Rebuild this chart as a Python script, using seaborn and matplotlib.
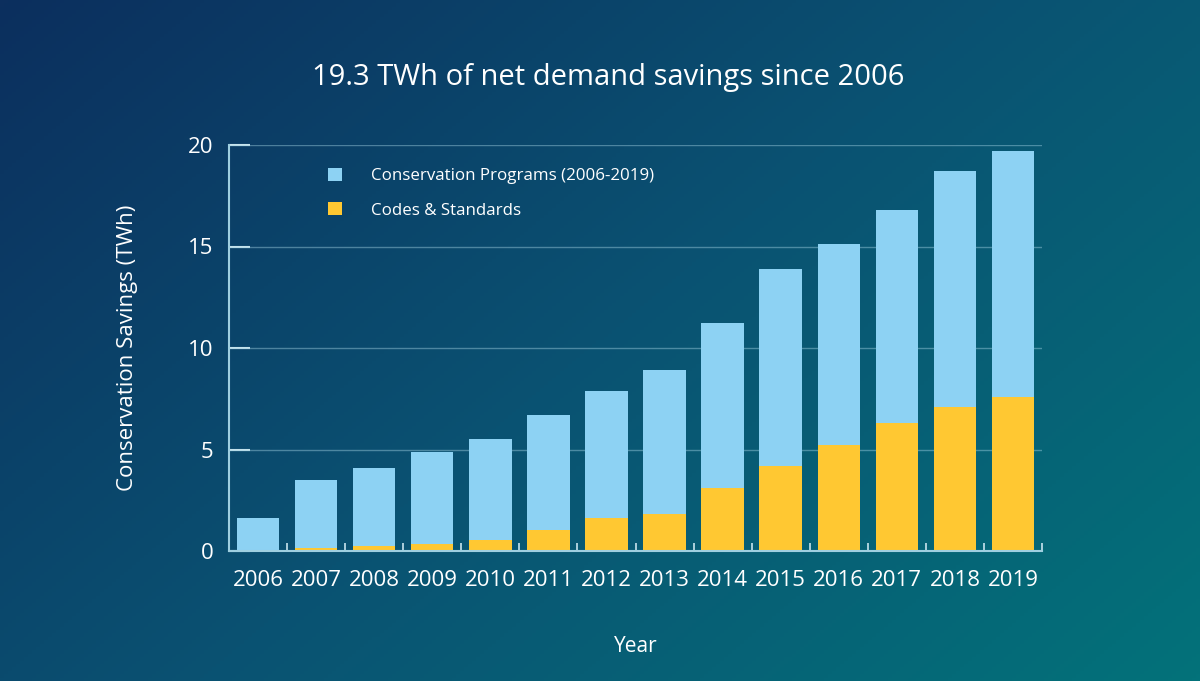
import numpy as np
import pandas as pd
import matplotlib
matplotlib.use("Agg")
import matplotlib.pyplot as plt
from matplotlib.patches import Patch
from matplotlib.colors import LinearSegmentedColormap
import seaborn as sns

years = ["2006", "2007", "2008", "2009", "2010", "2011", "2012",
         "2013", "2014", "2015", "2016", "2017", "2018", "2019"]
total_savings = [1.61, 3.51, 4.10, 4.89, 5.50, 6.70, 7.88,
                 8.90, 11.23, 13.90, 15.10, 16.80, 18.70, 19.69]
codes_standards = [0.0, 0.15, 0.23, 0.33, 0.54, 1.02, 1.61,
                   1.81, 3.10, 4.20, 5.21, 6.32, 7.09, 7.60]
y_ticks = [0, 5, 10, 15, 20]

title = "19.3 TWh of net demand savings since 2006"
ylabel = "Conservation Savings (TWh)"
xlabel = "Year"
legend_labels = ["Conservation Programs (2006-2019)", "Codes & Standards"]

blue = "#8dd2f3"
yellow = "#ffc832"
txt = "#ffffff"
line_col = "#9fcfe0"

sns.set_theme(style="white")
plt.rcParams["font.family"] = ["Open Sans", "DejaVu Sans"]

df = pd.DataFrame({"year": years, "total": total_savings, "codes": codes_standards})

fig = plt.figure(figsize=(12, 6.81), dpi=100)

# gradient background
bg = fig.add_axes([0, 0, 1, 1], zorder=-10)
cmap = LinearSegmentedColormap.from_list("bg", ["#0c2f5e", "#0a5272", "#03727a"])
xx, yy = np.meshgrid(np.linspace(0, 1, 300), np.linspace(0, 1, 200))
grad = (xx * 0.6 + yy * 0.4)
bg.imshow(grad, cmap=cmap, aspect="auto", extent=[0, 1, 0, 1], origin="upper")
bg.axis("off")

ax = fig.add_axes([229/1200, 1 - 551/681, (1042-229)/1200, (551-145)/681])
ax.set_facecolor("none")

sns.barplot(data=df, x="year", y="total", order=years, color=blue,
            width=0.73, saturation=1, linewidth=0, edgecolor="none", ax=ax, zorder=3)
sns.barplot(data=df, x="year", y="codes", order=years, color=yellow,
            width=0.73, saturation=1, linewidth=0, edgecolor="none", ax=ax, zorder=4)

ax.set_xlim(-0.5, len(years) - 0.5)
ax.set_ylim(0, 20)
ax.set_yticks(y_ticks)
ax.set_yticklabels([str(v) for v in y_ticks])
for v in y_ticks[1:]:
    ax.axhline(v, color=line_col, lw=1, alpha=0.45, zorder=1)

ax.tick_params(axis="y", direction="in", length=15, width=1.5, color="#c8e4ee",
               labelsize=16, labelcolor=txt, pad=11, left=True)
ax.tick_params(axis="x", which="major", length=0, labelsize=16, labelcolor=txt, pad=14)
ax.set_xticks(np.arange(0.5, len(years) - 0.5 + 0.01, 1.0), minor=True)
ax.tick_params(axis="x", which="minor", direction="in", length=6, width=1.2,
               color="#c8e4ee", bottom=True)

for s in ["top", "right"]:
    ax.spines[s].set_visible(False)
for s in ["left", "bottom"]:
    ax.spines[s].set_color(line_col)
    ax.spines[s].set_linewidth(1.5)
    ax.spines[s].set_zorder(6)

ax.set_xlabel(xlabel, color=txt, fontsize=15, labelpad=32)
ax.set_ylabel(ylabel, color=txt, fontsize=16, labelpad=36)

fig.text(608/1200, 1 - 78/681, title, color=txt, fontsize=21, ha="center", va="center")

handles = [Patch(facecolor=blue, edgecolor="none"), Patch(facecolor=yellow, edgecolor="none")]
leg = ax.legend(handles, legend_labels, loc="upper left", bbox_to_anchor=(0.103, 0.982),
                frameon=False, fontsize=12.2, handlelength=0.85, handleheight=0.85,
                handletextpad=1.7, labelspacing=1.05)
for t in leg.get_texts():
    t.set_color(txt)

fig.savefig("out.png", dpi=100)
